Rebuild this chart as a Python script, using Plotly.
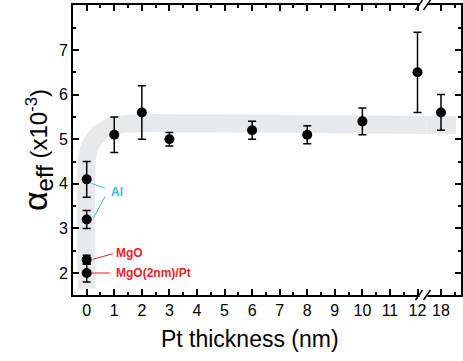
import plotly.graph_objects as go

# ---- data ----
pt_thickness = [0, 0, 0, 0, 1, 2, 3, 6, 8, 10, 12]
alpha_eff = [4.1, 3.2, 2.3, 2.0, 5.1, 5.6, 5.0, 5.2, 5.1, 5.4, 6.5]
alpha_err = [0.4, 0.2, 0.1, 0.2, 0.4, 0.6, 0.15, 0.2, 0.2, 0.3, 0.9]

far_thickness = [18]
far_alpha = [5.6]
far_err = [0.4]

# guide band
band_x = [0, 0, 0.04, 0.16, 0.35, 0.6, 0.89, 1.2, 2, 3, 6, 10, 12.4]
band_y = [1.65, 4.45, 4.68, 4.88, 5.06, 5.19, 5.28, 5.33, 5.36, 5.36, 5.35, 5.33, 5.32]
band2_x = [17.4, 18.54]
band2_y = [5.32, 5.32]

x_tickvals = list(range(0, 13))
x2_tickvals = [18]
y_tickvals = [2, 3, 4, 5, 6, 7]

labels = ["Al", "MgO", "MgO(2nm)/Pt"]
label_x = [0.80, 1.0, 1.0]
label_y = [3.82, 2.44, 2.0]
label_colors = ["#3db7da", "#e8232e", "#e8232e"]
# leader lines: (x0, y0, x1, y1, label index)
leaders = [(0.18, 4.01, 0.66, 3.90, 0), (0.24, 3.23, 0.66, 3.71, 0),
           (0.23, 2.31, 0.95, 2.43, 1), (0.19, 2.0, 0.85, 2.0, 2)]

W, H = 463, 361
ml, mr, mt, mb = 73, 2, 5, 66
pw = W - ml - mr
ph = H - mt - mb
brk = (426.5 - ml) / pw

BAND = "#e6eaec"
FONT = "Liberation Sans, Arial, sans-serif"

fig = go.Figure()
fig.add_trace(go.Scatter(x=band_x, y=band_y, mode="lines",
                         line=dict(color=BAND, width=18, shape="spline"),
                         xaxis="x", yaxis="y", hoverinfo="skip"))
fig.add_trace(go.Scatter(x=band2_x, y=band2_y, mode="lines",
                         line=dict(color=BAND, width=18),
                         xaxis="x2", yaxis="y2", hoverinfo="skip"))
fig.add_trace(go.Scatter(x=pt_thickness, y=alpha_eff, mode="markers",
                         marker=dict(color="black", size=10),
                         error_y=dict(type="data", array=alpha_err, color="black",
                                      thickness=1.5, width=4),
                         xaxis="x", yaxis="y"))
fig.add_trace(go.Scatter(x=far_thickness, y=far_alpha, mode="markers",
                         marker=dict(color="black", size=10),
                         error_y=dict(type="data", array=far_err, color="black",
                                      thickness=1.5, width=4),
                         xaxis="x2", yaxis="y2"))

for (x0, y0, x1, y1, i) in leaders:
    fig.add_shape(type="line", x0=x0, y0=y0, x1=x1, y1=y1, xref="x", yref="y",
                  line=dict(color=label_colors[i], width=1))
for i, t in enumerate(labels):
    fig.add_annotation(x=label_x[i], y=label_y[i], xref="x", yref="y", text="<b>%s</b>" % t,
                       showarrow=False, xanchor="left", yanchor="middle",
                       font=dict(family=FONT, size=12, color=label_colors[i]))

# axis-break marks
def px2paper(px, py):
    return (px - ml) / pw, (H - mb - py) / ph

for ybase in (295, 5):
    xa, ya = px2paper(419.5, ybase + 2.5)
    xb, yb = px2paper(427.5, ybase - 2.5)
    fig.add_shape(type="rect", x0=xa, x1=xb, y0=ya, y1=yb, xref="paper", yref="paper",
                  fillcolor="white", line=dict(width=0), layer="above")
    for sx in (415.5, 423.5):
        a0, b0 = px2paper(sx, ybase + 5)
        a1, b1 = px2paper(sx + 7, ybase - 5)
        fig.add_shape(type="line", x0=a0, y0=b0, x1=a1, y1=b1, xref="paper", yref="paper",
                      line=dict(color="black", width=1.5), layer="above")

axis_common = dict(showline=True, linecolor="black", linewidth=2, ticks="inside",
                   tickcolor="black", tickwidth=2, ticklen=6, showgrid=False, zeroline=False,
                   tickfont=dict(family=FONT, size=16, color="black"))

fig.update_layout(
    width=W, height=H, margin=dict(l=ml, r=mr, t=mt, b=mb),
    paper_bgcolor="white", plot_bgcolor="white", showlegend=False,
    xaxis=dict(domain=[0, brk], range=[-0.497, 12.326], tickvals=x_tickvals,
               mirror="ticks", anchor="y",
               minor=dict(ticks="inside", ticklen=3, tickwidth=1.5, dtick=0.5, tick0=0,
                          tickcolor="black"),
               title=dict(text="Pt thickness (nm)", standoff=13,
                          font=dict(family=FONT, size=23, color="black")),
               **axis_common),
    xaxis2=dict(domain=[brk, 1], range=[17.474, 18.725], tickvals=x2_tickvals,
                mirror="ticks", anchor="y2",
                minor=dict(ticks="inside", ticklen=3, tickwidth=1.5, tickvals=[18.5],
                           tickcolor="black"),
                **axis_common),
    yaxis=dict(range=[1.507, 8.009], tickvals=y_tickvals, anchor="x",
               minor=dict(ticks="inside", ticklen=3, tickwidth=1.5, dtick=0.5, tick0=0,
                          tickcolor="black"),
               title=dict(text="<span style='font-size:34px'>α</span><sub><span style='font-size:24px'>eff</span></sub> (x10<sup>-3</sup>)",
                          standoff=4, font=dict(family=FONT, size=24, color="black")),
               **axis_common),
    yaxis2=dict(range=[1.507, 8.009], tickvals=y_tickvals, anchor="x2", side="right",
                matches="y", showticklabels=False,
                minor=dict(ticks="inside", ticklen=3, tickwidth=1.5, dtick=0.5, tick0=0,
                           tickcolor="black"),
                **axis_common),
)

fig.write_html("out.html")
